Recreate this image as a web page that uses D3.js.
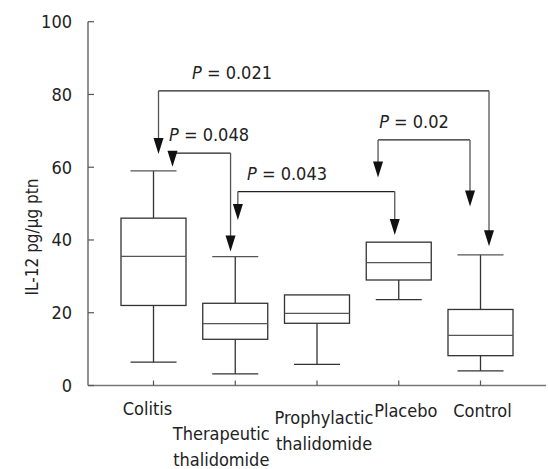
<!DOCTYPE html>
<html>
<head>
<meta charset="utf-8">
<script src="https://cdn.jsdelivr.net/npm/d3@7"></script>
<style>
  body { margin: 0; background: #fff; }
  svg { display: block; font-family: "DejaVu Sans Condensed", "DejaVu Sans", sans-serif; }
</style>
</head>
<body>
<svg id="chart" width="548" height="469"></svg>
<script>
// groups along the x axis
const groups = ["Colitis", "Therapeutic thalidomide", "Prophylactic thalidomide", "Placebo", "Control"];
const groupLines = [["Colitis"], ["Therapeutic", "thalidomide"], ["Prophylactic", "thalidomide"], ["Placebo"], ["Control"]];

// box stats, IL-12 pg/ug ptn
const lowWhisker = [6.4, 3.2, 5.8, 23.6, 4.0];
const q1 = [22.0, 12.7, 17.1, 29.0, 8.2];
const median = [35.5, 17.0, 19.8, 33.8, 13.8];
const q3 = [46.0, 22.6, 24.9, 39.4, 20.9];
const highWhisker = [59.0, 35.4, 24.9, 39.4, 35.9];

const yTicks = [0, 20, 40, 60, 80, 100];

// comparison brackets: from group -> to group, bar level, arrow tip levels
const cmpFrom = ["Colitis", "Colitis", "Therapeutic thalidomide", "Placebo"];
const cmpTo = ["Control", "Therapeutic thalidomide", "Placebo", "Control"];
const cmpBar = [81.0, 63.9, 53.3, 67.5];
const cmpTipFrom = [63.6, 60.1, 45.5, 57.2];
const cmpTipTo = [38.3, 36.8, 41.4, 49.2];
const cmpP = ["0.021", "0.048", "0.043", "0.02"];

const svg = d3.select("#chart");

const x = d3.scalePoint().domain(groups).range([153.5, 480.5]);
const y = d3.scaleLinear().domain([0, 100]).range([385.5, 21.7]);

const boxW = 65, capW = 46;
const stroke = "#333";
const fs = "18px";

// axes
svg.append("line")
    .attr("x1", 88).attr("x2", 88)
    .attr("y1", y(100)).attr("y2", y(0))
    .attr("stroke", "#555").attr("stroke-width", 1.3);
svg.append("line")
    .attr("x1", 88).attr("x2", 546)
    .attr("y1", y(0)).attr("y2", y(0))
    .attr("stroke", "#777").attr("stroke-width", 1.3);

svg.append("g").selectAll("line")
    .data(yTicks)
    .enter().append("line")
    .attr("x1", 88).attr("x2", 94)
    .attr("y1", d => y(d)).attr("y2", d => y(d))
    .attr("stroke", "#555").attr("stroke-width", 1.2);

svg.append("g").selectAll("text")
    .data(yTicks)
    .enter().append("text")
    .attr("x", 72)
    .attr("y", d => y(d) + 6.5)
    .attr("text-anchor", "end")
    .attr("fill", "#222")
    .style("font-size", fs)
    .text(d => d);

svg.append("g").selectAll("line")
    .data(groups)
    .enter().append("line")
    .attr("x1", d => x(d)).attr("x2", d => x(d))
    .attr("y1", y(0) - 5).attr("y2", y(0))
    .attr("stroke", "#555").attr("stroke-width", 1.2);

// y label
svg.append("text")
    .attr("transform", "translate(38,237) rotate(-90)")
    .attr("text-anchor", "middle")
    .attr("fill", "#222")
    .style("font-size", "17px")
    .text("IL-12 pg/\u03bcg ptn");

// x labels (staggered like the original)
const labelShift = [[-6, 415], [-14, 440], [7, 424], [7, 417], [2, 417]];
const xl = svg.append("g").selectAll("text")
    .data(groups)
    .enter().append("text")
    .attr("text-anchor", "middle")
    .attr("fill", "#222")
    .style("font-size", fs);
xl.each(function(d, i) {
    d3.select(this).selectAll("tspan")
        .data(groupLines[i])
        .enter().append("tspan")
        .attr("x", x(d) + labelShift[i][0])
        .attr("y", (t, j) => labelShift[i][1] + j * 26)
        .text(t => t);
});

// boxes
const box = svg.append("g").selectAll("g")
    .data(groups)
    .enter().append("g");

box.append("line")
    .attr("x1", d => x(d)).attr("x2", d => x(d))
    .attr("y1", (d, i) => y(lowWhisker[i])).attr("y2", (d, i) => y(q1[i]))
    .attr("stroke", stroke).attr("stroke-width", 1.3);
box.append("line")
    .attr("x1", d => x(d)).attr("x2", d => x(d))
    .attr("y1", (d, i) => y(q3[i])).attr("y2", (d, i) => y(highWhisker[i]))
    .attr("stroke", stroke).attr("stroke-width", 1.3);
box.append("line")
    .attr("x1", d => x(d) - capW / 2).attr("x2", d => x(d) + capW / 2)
    .attr("y1", (d, i) => y(lowWhisker[i])).attr("y2", (d, i) => y(lowWhisker[i]))
    .attr("stroke", stroke).attr("stroke-width", 1.3);
box.filter((d, i) => highWhisker[i] > q3[i]).append("line")
    .attr("x1", d => x(d) - capW / 2).attr("x2", d => x(d) + capW / 2)
    .attr("y1", d => y(highWhisker[groups.indexOf(d)])).attr("y2", d => y(highWhisker[groups.indexOf(d)]))
    .attr("stroke", "#555").attr("stroke-width", 1.3);
box.append("rect")
    .attr("x", d => x(d) - boxW / 2)
    .attr("width", boxW)
    .attr("y", (d, i) => y(q3[i]))
    .attr("height", (d, i) => y(q1[i]) - y(q3[i]))
    .attr("fill", "#fff")
    .attr("stroke", stroke).attr("stroke-width", 1.3);
box.append("line")
    .attr("x1", d => x(d) - boxW / 2).attr("x2", d => x(d) + boxW / 2)
    .attr("y1", (d, i) => y(median[i])).attr("y2", (d, i) => y(median[i]))
    .attr("stroke", "#555").attr("stroke-width", 1.3);

// comparison brackets
const armFrom = [5, 19, 2.6, -20.7];
const armTo = [8.5, -4.7, -4, -10.5];
const labelX = [232, 209, 287, 414];
const headH = 16, headW = 5;

const cmp = svg.append("g").selectAll("g")
    .data(cmpP)
    .enter().append("g");

cmp.each(function(p, i) {
    const g = d3.select(this);
    const xa = x(cmpFrom[i]) + armFrom[i];
    const xb = x(cmpTo[i]) + armTo[i];
    const yb = y(cmpBar[i]);
    g.append("line")
        .attr("x1", xa).attr("x2", xb).attr("y1", yb).attr("y2", yb)
        .attr("stroke", "#222").attr("stroke-width", 1.3);
    [[xa, cmpTipFrom[i]], [xb, cmpTipTo[i]]].forEach(([ax, tip]) => {
        const yt = y(tip);
        g.append("line")
            .attr("x1", ax).attr("x2", ax).attr("y1", yb).attr("y2", yt - headH + 1)
            .attr("stroke", "#555").attr("stroke-width", 1.3);
        g.append("path")
            .attr("d", `M${ax - headW},${yt - headH}L${ax + headW},${yt - headH}L${ax},${yt}Z`)
            .attr("fill", "#111");
    });
    const t = g.append("text")
        .attr("x", labelX[i])
        .attr("y", yb - 12)
        .attr("text-anchor", "middle")
        .attr("fill", "#222")
        .style("font-size", fs);
    t.append("tspan").style("font-style", "italic").text("P");
    t.append("tspan").text(" = " + p);
});
</script>
</body>
</html>
